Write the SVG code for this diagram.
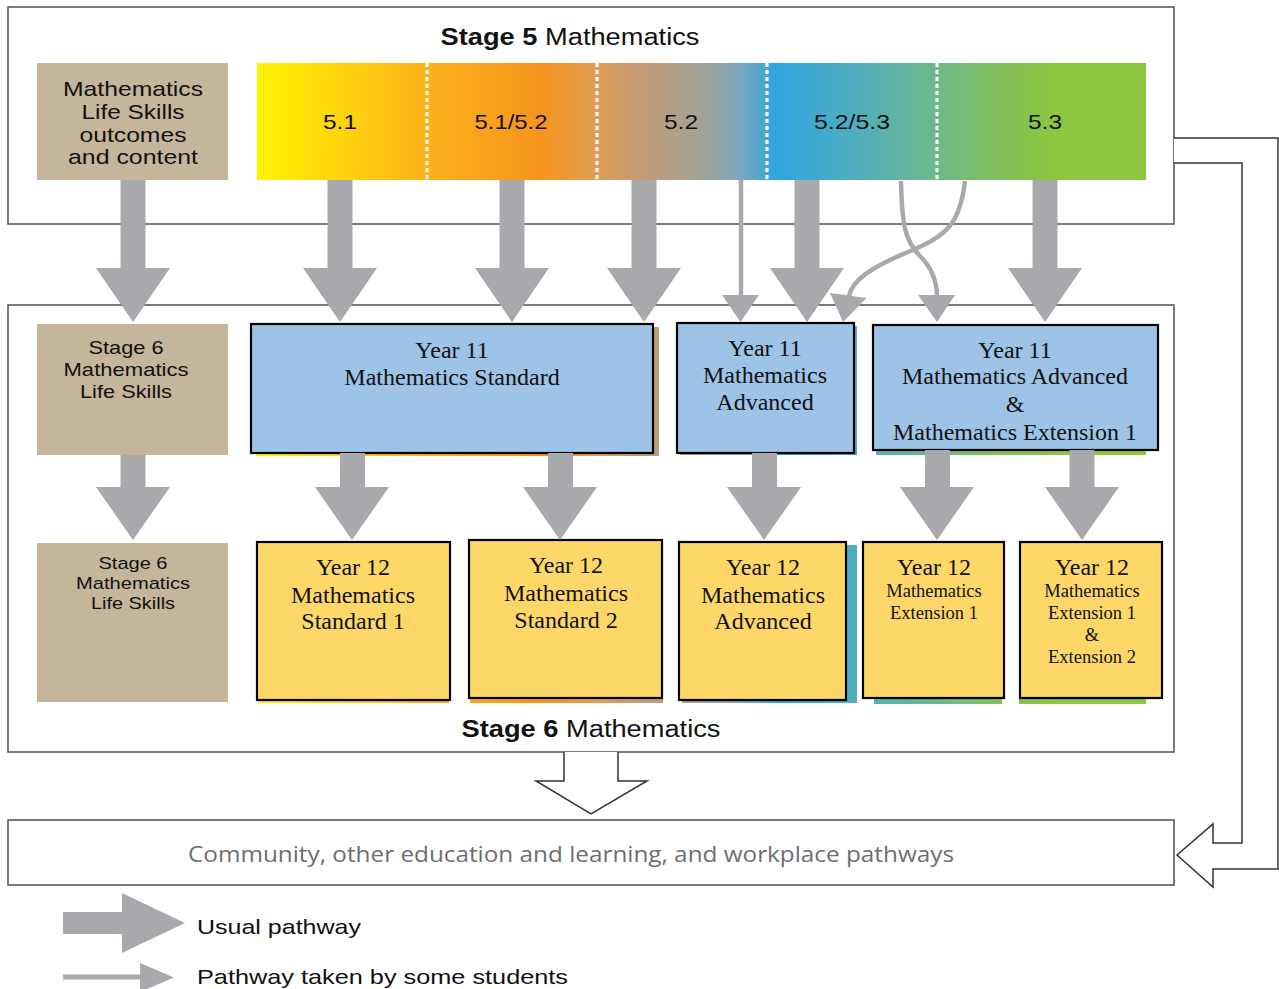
<svg xmlns="http://www.w3.org/2000/svg" width="1279" height="989" viewBox="0 0 1279 989">
<style>
.frame{fill:#fff;stroke:#5a5a5a;stroke-width:1.6}
.tan{fill:#c4b59b}
.y11{fill:#9dc3e6;stroke:#000;stroke-width:2.2}
.y12{fill:#fdd868;stroke:#000;stroke-width:2.2}
.shadow{fill:url(#bar)}
.sans{font-family:"Liberation Sans",Arial,sans-serif;fill:#111}
.serif{font-family:"Liberation Serif","Times New Roman",serif;fill:#111;text-anchor:middle}
.thick{fill:#a7a9ac}
.thin{fill:none;stroke:#a7a9ac;stroke-width:4.5}
.hollow{fill:#fff;stroke:#333;stroke-width:1.5}
.sep{stroke:#fff;stroke-width:3;stroke-dasharray:4 3}
</style>
<defs>
<linearGradient id="bar" gradientUnits="userSpaceOnUse" x1="257" y1="0" x2="1146" y2="0">
<stop offset="0" stop-color="#fff200"/>
<stop offset="0.09" stop-color="#ffd60c"/>
<stop offset="0.19" stop-color="#fbb21b"/>
<stop offset="0.32" stop-color="#f7941d"/>
<stop offset="0.38" stop-color="#e09d55"/>
<stop offset="0.43" stop-color="#c49c74"/>
<stop offset="0.50" stop-color="#a2a196"/>
<stop offset="0.545" stop-color="#78a7bd"/>
<stop offset="0.585" stop-color="#2ea6df"/>
<stop offset="0.67" stop-color="#4fadc0"/>
<stop offset="0.765" stop-color="#6eb98a"/>
<stop offset="0.84" stop-color="#83c057"/>
<stop offset="0.9" stop-color="#8dc63f"/>
<stop offset="1" stop-color="#8dc63f"/>
</linearGradient>
</defs>

<g id="stage5-frame">
<rect class="frame" x="8" y="7" width="1166" height="217"/>
<text class="sans" x="570" y="45" font-size="23" text-anchor="middle" textLength="259" lengthAdjust="spacingAndGlyphs"><tspan font-weight="bold">Stage 5</tspan> Mathematics</text>
</g>
<g id="stage6-frame">
<rect class="frame" x="8" y="305" width="1166" height="447"/>
<text class="sans" x="591" y="737" font-size="23" text-anchor="middle" textLength="259" lengthAdjust="spacingAndGlyphs"><tspan font-weight="bold">Stage 6</tspan> Mathematics</text>
</g>
<g id="pathways">
<rect class="frame" x="8" y="820" width="1166" height="65"/>
<text x="571" y="862" font-family="'Liberation Sans Narrow','Open Sans',sans-serif" font-size="21" fill="#6d6e71" text-anchor="middle" textLength="766" lengthAdjust="spacingAndGlyphs">Community, other education and learning, and workplace pathways</text>
</g>

<g id="life-skills-s5">
<rect class="tan" x="37" y="63" width="191" height="117"/>
<g class="sans" font-size="21" text-anchor="middle">
<text x="133" y="96" textLength="140" lengthAdjust="spacingAndGlyphs">Mathematics</text>
<text x="133" y="119" textLength="103" lengthAdjust="spacingAndGlyphs">Life Skills</text>
<text x="133" y="142" textLength="107" lengthAdjust="spacingAndGlyphs">outcomes</text>
<text x="133" y="164" textLength="130" lengthAdjust="spacingAndGlyphs">and content</text>
</g>
</g>

<g id="stage5-bar">
<rect x="257" y="63" width="889" height="117" fill="url(#bar)"/>
<line class="sep" x1="427" y1="63" x2="427" y2="180"/>
<line class="sep" x1="597" y1="63" x2="597" y2="180"/>
<line class="sep" x1="767" y1="63" x2="767" y2="180"/>
<line class="sep" x1="937" y1="63" x2="937" y2="180"/>
<g class="sans" font-size="21" text-anchor="middle">
<text id="s51" x="340" y="129" textLength="34" lengthAdjust="spacingAndGlyphs">5.1</text>
<text id="s5152" x="511" y="129" textLength="73" lengthAdjust="spacingAndGlyphs">5.1/5.2</text>
<text id="s52" x="681" y="129" textLength="34" lengthAdjust="spacingAndGlyphs">5.2</text>
<text id="s5253" x="852" y="129" textLength="76" lengthAdjust="spacingAndGlyphs">5.2/5.3</text>
<text id="s53" x="1045" y="129" textLength="34" lengthAdjust="spacingAndGlyphs">5.3</text>
</g>
</g>

<g id="life-skills-y11">
<rect class="tan" x="37" y="324" width="191" height="131"/>
<g class="sans" font-size="19" text-anchor="middle">
<text x="126" y="354" textLength="75" lengthAdjust="spacingAndGlyphs">Stage 6</text>
<text x="126" y="376" textLength="125" lengthAdjust="spacingAndGlyphs">Mathematics</text>
<text x="126" y="398" textLength="92" lengthAdjust="spacingAndGlyphs">Life Skills</text>
</g>
</g>
<g id="life-skills-y12">
<rect class="tan" x="37" y="543" width="191" height="159"/>
<g class="sans" font-size="17" text-anchor="middle">
<text x="133" y="569" textLength="69" lengthAdjust="spacingAndGlyphs">Stage 6</text>
<text x="133" y="589" textLength="114" lengthAdjust="spacingAndGlyphs">Mathematics</text>
<text x="133" y="609" textLength="84" lengthAdjust="spacingAndGlyphs">Life Skills</text>
</g>
</g>

<g id="y11-standard">
<rect class="shadow" x="256" y="327" width="403" height="129"/>
<rect class="y11" x="251" y="324" width="402" height="129"/>
<text class="serif" font-size="24"><tspan x="452" y="358">Year 11</tspan><tspan x="452" y="385">Mathematics Standard</tspan></text>
</g>
<g id="y11-advanced">
<rect class="shadow" x="680" y="326" width="177" height="129"/>
<rect class="y11" x="677" y="323" width="177" height="130"/>
<text class="serif" font-size="24"><tspan x="765" y="356">Year 11</tspan><tspan x="765" y="383">Mathematics</tspan><tspan x="765" y="410">Advanced</tspan></text>
</g>
<g id="y11-adv-ext1">
<rect class="shadow" x="876" y="328" width="270" height="127"/>
<rect class="y11" x="873" y="325" width="285" height="125"/>
<text class="serif" font-size="24"><tspan x="1015" y="358">Year 11</tspan><tspan x="1015" y="384">Mathematics Advanced</tspan><tspan x="1015" y="412">&amp;</tspan><tspan x="1015" y="440">Mathematics Extension 1</tspan></text>
</g>

<g id="y12-standard1">
<rect class="shadow" x="258" y="545" width="191" height="158"/>
<rect class="y12" x="257" y="542" width="193" height="158"/>
<text class="serif" font-size="24"><tspan x="353" y="575">Year 12</tspan><tspan x="353" y="603">Mathematics</tspan><tspan x="353" y="629">Standard 1</tspan></text>
</g>
<g id="y12-standard2">
<rect class="shadow" x="470" y="543" width="193" height="160"/>
<rect class="y12" x="469" y="540" width="193" height="158"/>
<text class="serif" font-size="24"><tspan x="566" y="573">Year 12</tspan><tspan x="566" y="601">Mathematics</tspan><tspan x="566" y="628">Standard 2</tspan></text>
</g>
<g id="y12-advanced">
<rect class="shadow" x="682" y="545" width="175" height="158"/>
<rect class="y12" x="679" y="542" width="167" height="158"/>
<text class="serif" font-size="24"><tspan x="763" y="575">Year 12</tspan><tspan x="763" y="603">Mathematics</tspan><tspan x="763" y="629">Advanced</tspan></text>
</g>
<g id="y12-ext1">
<rect class="shadow" x="874" y="546" width="128" height="158"/>
<rect class="y12" x="863" y="542" width="141" height="156"/>
<text class="serif"><tspan x="934" y="575" font-size="24">Year 12</tspan><tspan x="934" y="597" font-size="18.5">Mathematics</tspan><tspan x="934" y="619" font-size="18.5">Extension 1</tspan></text>
</g>
<g id="y12-ext1-ext2">
<rect class="shadow" x="1019" y="546" width="127" height="158"/>
<rect class="y12" x="1020" y="542" width="142" height="156"/>
<text class="serif"><tspan x="1092" y="575" font-size="24">Year 12</tspan><tspan x="1092" y="597" font-size="18.5">Mathematics</tspan><tspan x="1092" y="619" font-size="18.5">Extension 1</tspan><tspan x="1092" y="641" font-size="18.5">&amp;</tspan><tspan x="1092" y="663" font-size="18.5">Extension 2</tspan></text>
</g>

<g id="legend">
<polygon class="thick" points="63,912 122,912 122,893 185,923 122,953 122,934 63,934"/>
<text class="sans" x="197" y="934" font-size="21" textLength="164" lengthAdjust="spacingAndGlyphs" fill="#231f20">Usual pathway</text>
<line x1="63" y1="977" x2="142" y2="977" stroke="#a7a9ac" stroke-width="5"/>
<polygon class="thick" points="140,963 174,977.5 140,992"/>
<text class="sans" x="197" y="984" font-size="21" textLength="371" lengthAdjust="spacingAndGlyphs" fill="#231f20">Pathway taken by some students</text>
</g>

<g id="connectors">
<!-- Stage 5 to Year 11 usual pathways -->
<polygon class="thick" points="120.5,180 145.5,180 145.5,268 170,268 133,322 96,268 120.5,268"/>
<polygon class="thick" points="327.5,180 352.5,180 352.5,268 377,268 340,322 303,268 327.5,268"/>
<polygon class="thick" points="499.5,180 524.5,180 524.5,268 549,268 512,322 475,268 499.5,268"/>
<polygon class="thick" points="631.5,180 656.5,180 656.5,268 681,268 644,322 607,268 631.5,268"/>
<polygon class="thick" points="794.5,180 819.5,180 819.5,268 844,268 807,322 770,268 794.5,268"/>
<polygon class="thick" points="1032.5,180 1057.5,180 1057.5,268 1082,268 1045,322 1008,268 1032.5,268"/>
<!-- some students -->
<line class="thin" x1="741" y1="180" x2="741" y2="297"/>
<polygon class="thick" points="722,295 759,295 740.5,322"/>
<path class="thin" d="M965,181 C960,225 946,236 908,252 C872,267 852,280 849,296"/>
<polygon class="thick" points="830,293 866.5,298 843,322"/>
<path class="thin" d="M901,181 C902,225 905,241 920,256 C932,268 937,281 937,297"/>
<polygon class="thick" points="918,295 955,295 937,322"/>
<!-- Year 11 to Year 12 -->
<polygon class="thick" points="120.5,455 145.5,455 145.5,487 170,487 133,540 96,487 120.5,487"/>
<polygon class="thick" points="340,453 365,453 365,487 389,487 352,540 315,487 340,487"/>
<polygon class="thick" points="548,453 573,453 573,487 597,487 560,540 523,487 548,487"/>
<polygon class="thick" points="752,453 777,453 777,487 801,487 764,540 727,487 752,487"/>
<polygon class="thick" points="925,450 950,450 950,487 974,487 937,540 900,487 925,487"/>
<polygon class="thick" points="1069.5,450 1094.5,450 1094.5,487 1119,487 1082,540 1045,487 1069.5,487"/>
<!-- hollow arrows -->
<path class="hollow" d="M564,752 V781 H536 L591,814 L647,781 H618 V752"/>
<path class="hollow" d="M1174,138 H1278 V869 H1213 V887 L1177,855 L1213,824 V843 H1242 V163 H1174"/>
</g>
</svg>
